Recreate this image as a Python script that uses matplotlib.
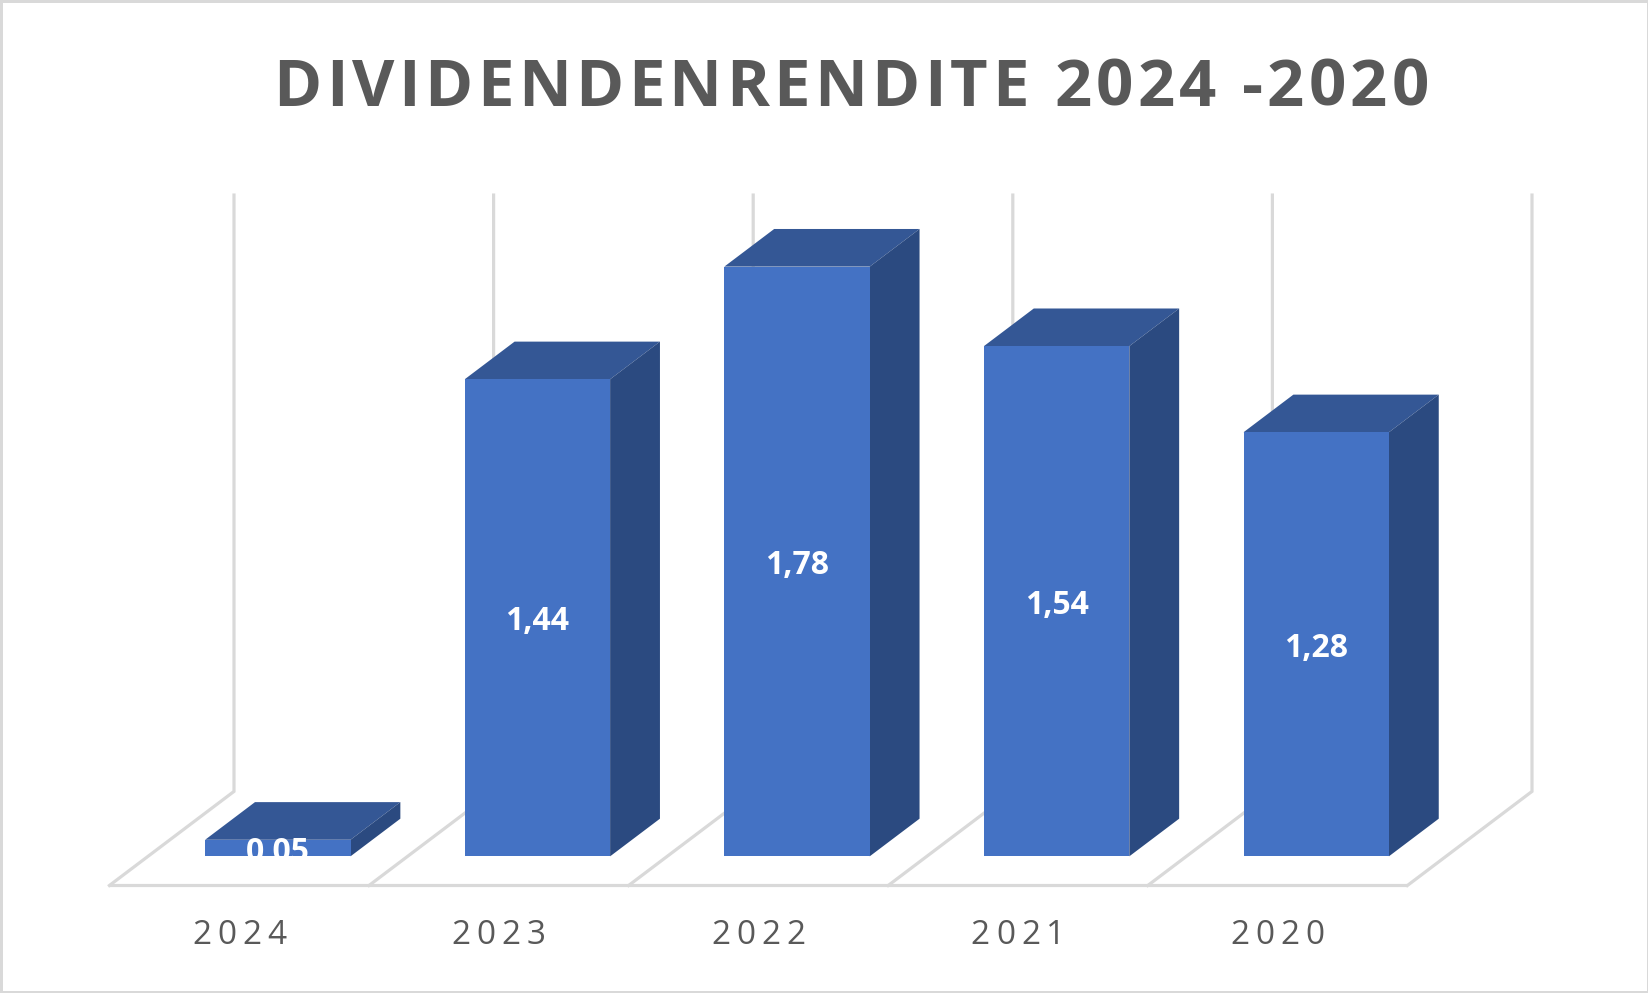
import numpy as np
import matplotlib
matplotlib.use('Agg')
import matplotlib.pyplot as plt
from matplotlib.patches import Polygon, Rectangle
from matplotlib.transforms import Bbox, TransformedBbox, offset_copy
from matplotlib.font_manager import FontProperties, findfont, get_font

# data
years = ['2024', '2023', '2022', '2021', '2020']
rendite = [0.05, 1.44, 1.78, 1.54, 1.28]
value_labels = ['0,05', '1,44', '1,78', '1,54', '1,28']
title = 'DIVIDENDENRENDITE 2024 -2020'
y_max = 1.8

# colours (Excel blue, 3D shading)
FRONT = '#4472C4'
TOP = '#345795'
SIDE = '#2B4A80'
GRID = '#D9D9D9'
TEXT = '#595959'

# oblique projection: depth offset of the floor, bar front/back plane, bar width
DX, DY = 0.48, 0.284
F0, F1 = 0.31, 0.71
W = 0.56
DPI = 100
FONT = 'Open Sans'

fig = plt.figure(figsize=(16.49, 9.93), dpi=DPI)
ax = fig.add_axes([0, 0, 1, 1])
ax.set_xlim(-0.4214, 5.9307)
ax.set_ylim(-0.3245, 2.6728)
ax.axis('off')


def tracked_text(x, y, s, transform, size, weight, track, color, dy=0):
    # draw text letter by letter with extra spacing (px), centred on x
    fp = FontProperties(family=FONT, weight=weight, size=size)
    ft = get_font(findfont(fp))
    ft.set_size(size, DPI)
    adv = [ft.load_char(ord(c)).linearHoriAdvance / 65536 for c in s]
    total = sum(adv) + track * (len(s) - 1)
    pos = -total / 2
    for c, a in zip(s, adv):
        if c != ' ':
            tr = offset_copy(transform, fig=fig, x=pos + a / 2, y=dy, units='dots')
            fig.text(x, y, c, transform=tr, fontproperties=fp, color=color,
                     ha='center', va='baseline')
        pos += a + track


n = len(years)

# floor and back wall
ax.plot([0, n], [0, 0], color=GRID, lw=2.3, zorder=1, solid_capstyle='butt')
for k in range(n + 1):
    ax.plot([k, k + DX, k + DX], [0, DY, DY + y_max], color=GRID, lw=2.3,
            zorder=1, solid_joinstyle='miter')

# bars
x0 = np.arange(n) + 0.5 - W / 2 + F0 * DX
base = F0 * DY
ddx = (F1 - F0) * DX
ddy = (F1 - F0) * DY
ax.bar(x0, rendite, width=W, bottom=base, align='edge', color=FRONT,
       linewidth=0, zorder=3)
for xl, v in zip(x0, rendite):
    top = base + v
    ax.add_patch(Polygon([(xl, top), (xl + W, top), (xl + W + ddx, top + ddy),
                          (xl + ddx, top + ddy)], closed=True, fc=TOP, ec='none', zorder=2))
    ax.add_patch(Polygon([(xl + W, base), (xl + W + ddx, base + ddy),
                          (xl + W + ddx, top + ddy), (xl + W, top)], closed=True,
                         fc=SIDE, ec='none', zorder=2))

# value labels, clipped at the bar bottom
clip = TransformedBbox(Bbox([[-1, base], [n + 1, 3]]), ax.transData)
for xl, v, lab in zip(x0, rendite, value_labels):
    t = ax.text(xl + W / 2, base + v / 2, lab, ha='center', va='center_baseline',
                color='white', fontsize=23, fontweight='bold', family=FONT, zorder=5)
    t.set_clip_box(clip)

# category labels
for k, yr in enumerate(years):
    tracked_text(k + 0.5, 0, yr, ax.transData, 24, 'normal', 6, TEXT, dy=-59)

# title
tracked_text(851 / 1649, 1 - 106 / 993, title, fig.transFigure, 47, 'bold', 4.3, TEXT)

# chart border
fig.patches.append(Rectangle((0, 0), 1, 1, transform=fig.transFigure, fill=False,
                             ec=GRID, lw=3.6))

fig.savefig('out.png', dpi=DPI)
